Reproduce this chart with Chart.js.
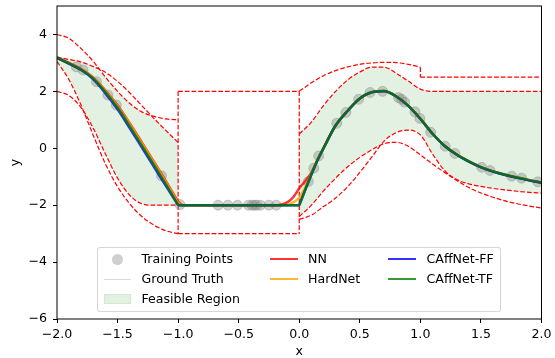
<!DOCTYPE html>
<html>
<head>
<meta charset="utf-8">
<script src="https://cdn.jsdelivr.net/npm/chart.js@4.4.1/dist/chart.umd.min.js"></script>
<style>
html,body{margin:0;padding:0;background:#fff;}
#wrap{position:relative;width:555px;height:358px;overflow:hidden;}
#c{position:absolute;left:0;top:0;}
#legend{position:absolute;left:97px;top:247px;width:404px;height:65px;box-sizing:border-box;
  border:1px solid rgba(204,204,204,0.8);border-radius:3px;background:rgba(255,255,255,0.8);
  font-family:'DejaVu Sans',sans-serif;font-size:12.6px;color:#000;}
.lt{position:absolute;height:16px;line-height:16px;white-space:nowrap;}
.lh{position:absolute;}
</style>
</head>
<body>
<div id="wrap">
<canvas id="c" width="555" height="358"></canvas>
<div id="legend"></div>
</div>
<script>
// ---------- data ----------
const xTicks = [-2, -1.5, -1, -0.5, 0, 0.5, 1, 1.5, 2];
const yTicks = [-6, -4, -2, 0, 2, 4];

// training points
const trainX = [-1.84,-1.785,-1.674,-1.58,-1.51,-1.137,-0.985,-0.67,-0.59,-0.51,-0.42,-0.39,-0.37,-0.35,-0.32,-0.25,-0.19,
  0.075,0.12,0.16,0.31,0.385,0.49,0.585,0.688,0.82,0.845,0.87,0.955,0.996,1.085,1.205,1.285,1.506,1.575,1.754,1.836,1.97];
const trainY = [2.86,2.75,2.34,1.87,1.52,-0.97,-1.98,-2,-2,-2,-2,-2,-2,-2,-2,-2,-2,
  -1.17,-0.7,-0.27,0.88,1.26,1.72,1.96,2.0,1.78,1.72,1.62,1.28,1.05,0.56,0.07,-0.18,-0.67,-0.78,-0.98,-1.05,-1.18];

// piece 1 grid (x in [-2,-1])
const xGrid1 = [-2.0,-1.9,-1.8,-1.7,-1.6,-1.5,-1.4,-1.3,-1.2,-1.1,-1.0];
// piece 2 grid (x in [-1,0])
const xGrid2 = [-1.0, 0.0];
// piece 3 grids (x in [0,2])
const xGrid3 = [0.0,0.1,0.2,0.3,0.4,0.5,0.6,0.7,0.8,0.9,1.0,1.1,1.2,1.3,1.4,1.5,1.6,1.7,1.8,1.9,2.0];
const xFine3 = [0.0,0.05,0.1,0.15,0.2,0.3,0.4,0.5,0.6,0.7,0.8,0.9,1.0,1.1,1.2,1.3,1.4,1.5,1.6,1.7,1.8,1.9,2.0];
const xGridE = [0.0,0.1,0.2,0.3,0.4,0.5,0.6,0.7,0.8,0.9,1.0];
const xGridE2 = [1.0, 2.0];

// ground truth
const truthY1 = [3.18,2.98,2.76,2.45,1.98,1.43,0.78,0.10,-0.58,-1.27,-2.0];
const truthY2 = [-2.0,-2.0];
const truthY3 = [-2.0,-1.45,-0.92,-0.42,0.0,0.8,1.32,1.75,1.97,2.01,1.83,1.5,1.04,0.52,0.09,-0.22,-0.46,-0.66,-0.81,-0.93,-1.03,-1.12,-1.2];

// NN
const nnY1 = [3.2,3.0,2.78,2.48,2.03,1.51,0.88,0.21,-0.47,-1.16,-1.88];
const nnX2 = [-1.0,-0.96,-0.18,-0.1,-0.05,0.0];
const nnY2 = [-1.88,-2.0,-2.0,-1.9,-1.72,-1.4];
const nnY3 = [-1.4,-1.15,-0.86,-0.41,0.0,0.8,1.32,1.75,1.97,2.01,1.83,1.5,1.04,0.52,0.09,-0.22,-0.46,-0.66,-0.81,-0.93,-1.03,-1.12,-1.2];

// HardNet
const hnY1 = [3.18,2.98,2.77,2.47,2.01,1.48,0.85,0.18,-0.5,-1.2,-1.93];
const hnX2 = [-1.0,-0.97,-0.12,-0.06,0.0];
const hnY2 = [-1.93,-2.0,-2.0,-1.93,-1.75];
const hnY3 = [-1.75,-1.36,-0.9,-0.42,0.0,0.8,1.32,1.75,1.97,2.01,1.83,1.5,1.04,0.52,0.09,-0.22,-0.46,-0.66,-0.81,-0.93,-1.03,-1.12,-1.2];

// CAffNet-FF
const ffY1 = [3.18,2.97,2.75,2.42,1.93,1.37,0.71,0.03,-0.65,-1.33,-2.0];
const ffY2 = [-2.0,-2.0];
const ffY3 = [-2.0,-1.46,-0.93,-0.43,0.0,0.8,1.32,1.75,1.97,2.0,1.82,1.49,1.03,0.51,0.08,-0.23,-0.47,-0.67,-0.82,-0.94,-1.04,-1.13,-1.21];

// CAffNet-TF
const tfY1 = [3.18,2.98,2.76,2.45,1.98,1.43,0.78,0.10,-0.58,-1.27,-2.0];
const tfY2 = [-2.0,-2.0];
const tfY3 = [-2.0,-1.45,-0.92,-0.42,0.0,0.8,1.32,1.75,1.97,2.01,1.83,1.5,1.04,0.52,0.09,-0.22,-0.46,-0.66,-0.81,-0.93,-1.03,-1.12,-1.2];

// constraint boundaries (dashed red)
const conA1 = [4.0,3.86,3.5,3.05,2.5,2.0,1.58,1.28,1.12,1.03,1.0];
const conB1 = [3.2,3.12,3.03,2.87,2.67,2.35,1.95,1.5,1.05,0.62,0.2];
const conC1 = [3.05,2.4,1.5,0.45,-0.55,-1.35,-1.95,-2.4,-2.7,-2.9,-3.0];
const conD1 = [2.0,1.85,1.42,0.7,-0.2,-1.05,-1.65,-1.95,-2.0,-2.0,-2.0];
const conUp2 = [2.0,2.0];
const conLo2 = [-3.0,-3.0];
const conE3 = [2.0,2.3,2.55,2.73,2.86,2.95,3.0,3.02,3.01,2.95,2.85];
const conE3b = [2.5,2.5];
const conF3 = [0.5,0.92,1.5,2.0,2.4,2.68,2.85,2.85,2.64,2.36,2.08,2.0,2.0,2.0,2.0,2.0,2.0,2.0,2.0,2.0,2.0];
const conG1 = [-2.5,-2.35,-2.05,-1.75,-1.35,-0.85,-0.3,0.25,0.55,0.64,0.47,-0.2,-0.78,-1.1,-1.25,-1.34,-1.41,-1.46,-1.51,-1.55,-1.58];
const conG2 = [-2.4,-2.0,-1.5,-1.05,-0.65,-0.32,-0.05,0.16,0.21,0.07,-0.23,-0.55,-0.85,-1.13,-1.38,-1.57,-1.72,-1.85,-1.95,-2.03,-2.1];

const legendLabels = ['Training Points','Ground Truth','Feasible Region','NN','HardNet','CAffNet-FF','CAffNet-TF'];

// ---------- build ----------
function pts(xs, ys){ return xs.map((x,i)=>({x:x, y:ys[i]})); }
const FONT = {family:'DejaVu Sans', size:12.6};
const RED = 'rgb(255,0,0)';
const FILL = 'rgba(0,128,0,0.11)';
const C_NN = 'rgba(255,0,0,0.8)', C_HN = 'rgba(255,165,0,0.8)', C_FF = 'rgba(0,0,255,0.8)', C_TF = 'rgba(0,128,0,0.8)';
const C_GT = 'rgba(128,128,128,0.3)';

const upper1 = conA1.map((v,i)=>Math.min(v, conB1[i]));
const lower1 = conC1.map((v,i)=>Math.max(v, conD1[i]));
const upper3 = conF3.map((v,i)=>Math.min(v, i < conE3.length ? conE3[i] : conE3b[0]));
const lower3 = conG1.map((v,i)=>Math.max(v, conG2[i]));

function fillDs(data, fill){ return {data, fill, backgroundColor:FILL, borderColor:'rgba(0,0,0,0)', borderWidth:0,
  pointRadius:0, cubicInterpolationMode:'monotone', order:100}; }
function dashed(data, mono){ return {data, borderColor:RED, borderWidth:1.2, borderDash:[4.7,2.0], pointRadius:0,
  fill:false, cubicInterpolationMode: mono ? 'monotone' : 'default', tension:0, order:90}; }
function line(data, color, width, order){ return {data, borderColor:color, borderWidth:width, pointRadius:0, fill:false,
  cubicInterpolationMode:'monotone', borderJoinStyle:'round', order}; }

const datasets = [
  fillDs(pts(xGrid1, upper1), '+1'),
  fillDs(pts(xGrid1, lower1), false),
  fillDs(pts(xGrid3, upper3), '+1'),
  fillDs(pts(xGrid3, lower3), false),
  // constraint boundaries
  dashed(pts(xGrid1, conA1), true),
  dashed(pts(xGrid1, conB1), true),
  dashed(pts(xGrid1, conC1), true),
  dashed(pts(xGrid1, conD1), true),
  dashed(pts(xGrid2, conUp2), false),
  dashed(pts(xGrid2, conLo2), false),
  dashed(pts(xGridE, conE3), true),
  dashed(pts(xGridE2, conE3b), false),
  dashed(pts(xGrid3, conF3), true),
  dashed(pts(xGrid3, conG1), true),
  dashed(pts(xGrid3, conG2), true),
  // jumps at the piece boundaries
  dashed([{x:xGrid2[0], y:conUp2[0]}, {x:xGrid2[0], y:conLo2[0]}], false),
  dashed([{x:xGrid2[1], y:conUp2[1]}, {x:xGrid2[1], y:conLo2[1]}], false),
  dashed([{x:xGridE[xGridE.length-1], y:conE3[conE3.length-1]}, {x:xGridE2[0], y:conE3b[0]}], false),
  // training points
  {data: pts(trainX, trainY), showLine:false, pointRadius:5, pointBackgroundColor:'rgba(128,128,128,0.36)',
   pointBorderColor:'rgba(128,128,128,0.36)', pointBorderWidth:1, order:80},
  // ground truth
  line(pts(xGrid1, truthY1), C_GT, 1, 70),
  line(pts(xGrid2, truthY2), C_GT, 1, 70),
  line(pts(xFine3, truthY3), C_GT, 1, 70),
  // NN
  line(pts(xGrid1, nnY1), C_NN, 2.5, 60),
  line(pts(nnX2, nnY2), C_NN, 2.5, 60),
  line(pts(xFine3, nnY3), C_NN, 2.5, 60),
  // HardNet
  line(pts(xGrid1, hnY1), C_HN, 2.5, 50),
  line(pts(hnX2, hnY2), C_HN, 2.5, 50),
  line(pts(xFine3, hnY3), C_HN, 2.5, 50),
  // CAffNet-FF
  line(pts(xGrid1, ffY1), C_FF, 2.5, 40),
  line(pts(xGrid2, ffY2), C_FF, 2.5, 40),
  line(pts(xFine3, ffY3), C_FF, 2.5, 40),
  // CAffNet-TF
  line(pts(xGrid1, tfY1), C_TF, 2.5, 30),
  line(pts(xGrid2, tfY2), C_TF, 2.5, 30),
  line(pts(xFine3, tfY3), C_TF, 2.5, 30)
];

function fmt(v, d){ const s = Math.abs(v).toFixed(d); return (v < 0 ? '\u2212' : '') + s; }

const frame = { id:'frame', afterDraw(chart){
  const {ctx, chartArea:a} = chart;
  ctx.save(); ctx.strokeStyle = '#000'; ctx.lineWidth = 1;
  ctx.strokeRect(a.left, a.top, a.right - a.left, a.bottom - a.top);
  ctx.restore();
}};

new Chart(document.getElementById('c'), {
  type:'line',
  data:{datasets},
  options:{
    responsive:false, animation:false, events:[],
    layout:{padding:{left:0, top:6, right:13.5, bottom:0}},
    plugins:{legend:{display:false}, tooltip:{enabled:false}},
    scales:{
      x:{type:'linear', min:-2, max:2,
        afterBuildTicks: s => { s.ticks = xTicks.map(v=>({value:v})); },
        afterFit: s => { s.height = 39; s.paddingLeft = 0; s.paddingRight = 0; },
        ticks:{callback: v => fmt(v,1), font:FONT, color:'#000', padding:4, maxRotation:0, autoSkip:false},
        grid:{drawOnChartArea:false, drawTicks:true, tickLength:4, color:'#000', lineWidth:1},
        border:{display:false},
        title:{display:true, text:'x', font:{family:'DejaVu Sans', size:12.6, lineHeight:1}, color:'#000', padding:{top:0, bottom:0}}
      },
      y:{type:'linear', min:-6, max:5,
        afterBuildTicks: s => { s.ticks = yTicks.map(v=>({value:v})); },
        afterFit: s => { s.width = 57; s.paddingTop = 0; s.paddingBottom = 0; },
        ticks:{callback: v => fmt(v,0), font:FONT, color:'#000', padding:6, autoSkip:false},
        grid:{drawOnChartArea:false, drawTicks:true, tickLength:4, color:'#000', lineWidth:1},
        border:{display:false},
        title:{display:true, text:'y', font:{family:'DejaVu Sans', size:12.6, lineHeight:1}, color:'#000', padding:{top:9, bottom:0}}
      }
    }
  },
  plugins:[frame]
});

// ---------- legend (matplotlib style, 3 columns) ----------
const lg = document.getElementById('legend');
const rowY = [12, 32, 52];
const cols = [{h0:6, h1:33, t:43.5}, {h0:172, h1:199.5, t:210}, {h0:289.5, h1:318, t:328.5}];
const items = [
  {c:0, r:0, kind:'marker'}, {c:0, r:1, kind:'gt'}, {c:0, r:2, kind:'patch'},
  {c:1, r:0, kind:'line', color:C_NN}, {c:1, r:1, kind:'line', color:C_HN},
  {c:2, r:0, kind:'line', color:C_FF}, {c:2, r:1, kind:'line', color:C_TF}
];
items.forEach((it, k) => {
  const col = cols[it.c], cy = rowY[it.r] - 1;
  const h = document.createElement('div'); h.className = 'lh';
  if (it.kind === 'marker') {
    const cx = (col.h0 + col.h1) / 2;
    Object.assign(h.style, {left:(cx-5.5)+'px', top:(cy-5.5)+'px', width:'11px', height:'11px', borderRadius:'50%', background:'rgba(128,128,128,0.38)'});
  } else if (it.kind === 'gt') {
    Object.assign(h.style, {left:col.h0+'px', top:(cy-0.5)+'px', width:(col.h1-col.h0)+'px', height:'1px', background:C_GT});
  } else if (it.kind === 'patch') {
    Object.assign(h.style, {left:col.h0+'px', top:(cy-5)+'px', width:(col.h1-col.h0)+'px', height:'10px', background:FILL, boxSizing:'border-box', border:'1px solid rgba(0,128,0,0.08)'});
  } else {
    Object.assign(h.style, {left:col.h0+'px', top:(cy-1.25)+'px', width:(col.h1-col.h0)+'px', height:'2.5px', background:it.color});
  }
  lg.appendChild(h);
  const t = document.createElement('div'); t.className = 'lt';
  t.textContent = legendLabels[k];
  Object.assign(t.style, {left:col.t+'px', top:(cy-8)+'px'});
  lg.appendChild(t);
});
</script>
</body>
</html>
